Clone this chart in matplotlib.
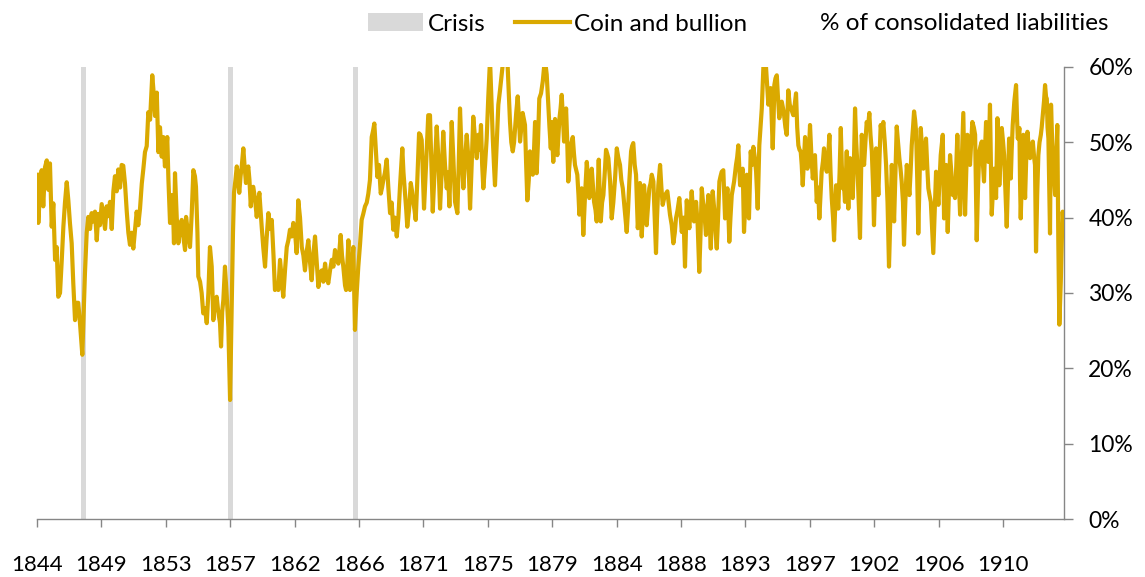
from typing import List
import numpy as np
import matplotlib
matplotlib.use("Agg")
import matplotlib.pyplot as plt
from matplotlib.patches import Patch
from matplotlib.lines import Line2D

# Bank of England coin and bullion, % of consolidated liabilities
years_a = [1844.62, 1844.69, 1844.81, 1844.92, 1845.03, 1845.15, 1845.27, 1845.38, 1845.49, 1845.61,
           1845.72, 1845.84, 1845.95, 1846.06, 1846.18, 1846.30, 1846.41, 1846.52, 1846.64, 1846.75,
           1846.86, 1846.98, 1847.09, 1847.21, 1847.32, 1847.43, 1847.55, 1847.71, 1847.89, 1848.01,
           1848.12, 1848.24, 1848.35, 1848.46, 1848.58, 1848.70, 1848.81, 1848.92, 1849.04, 1849.15,
           1849.27, 1849.38, 1849.49, 1849.61, 1849.73, 1849.84, 1849.95, 1850.07, 1850.18, 1850.30,
           1850.41, 1850.52, 1850.64, 1850.76, 1850.87, 1850.98, 1851.10, 1851.21, 1851.33, 1851.44,
           1851.55, 1851.67, 1851.79, 1851.90, 1852.01, 1852.13, 1852.24, 1852.36, 1852.51, 1852.63,
           1852.70, 1852.82, 1852.93]
pct_a = [45.7, 39.3, 43.7, 46.3, 41.5, 46.7, 47.6, 43.7, 47.2, 38.8,
         41.9, 34.4, 36.1, 29.5, 30.0, 34.4, 38.8, 42.0, 44.7, 42.3,
         39.3, 36.6, 31.3, 26.4, 28.7, 28.7, 26.0, 21.8, 32.6, 38.0,
         40.1, 38.5, 40.6, 39.5, 40.8, 37.0, 40.5, 39.0, 41.8, 40.2,
         38.5, 41.5, 40.2, 42.1, 38.5, 43.5, 45.5, 43.5, 46.4, 44.0,
         47.0, 46.9, 44.5, 40.8, 38.0, 36.4, 38.0, 35.9, 38.5, 40.8,
         39.0, 41.2, 44.5, 46.5, 48.7, 49.5, 54.0, 53.0, 58.9, 56.0,
         53.5, 56.6, 48.7]

years_b = [1853.04, 1853.16, 1853.27, 1853.38, 1853.54, 1853.62, 1853.73, 1853.83, 1853.91, 1854.00,
           1854.07, 1854.19, 1854.30, 1854.41, 1854.53, 1854.64, 1854.76, 1854.83, 1854.96, 1855.10,
           1855.22, 1855.33, 1855.44, 1855.51, 1855.61, 1855.67, 1855.79, 1855.90, 1856.01, 1856.13,
           1856.25, 1856.36, 1856.47, 1856.59, 1856.70, 1856.82, 1856.93, 1857.04, 1857.16, 1857.23,
           1857.31, 1857.39, 1857.50, 1857.62, 1857.73, 1857.85, 1857.96, 1858.05, 1858.12, 1858.22,
           1858.31, 1858.39, 1858.48, 1858.57, 1858.65, 1858.76, 1858.84, 1858.94, 1859.01, 1859.10,
           1859.18, 1859.27, 1859.36, 1859.44, 1859.56, 1859.68, 1859.77, 1859.86, 1859.94, 1860.02,
           1860.13, 1860.25, 1860.35, 1860.48, 1860.59, 1860.71, 1860.83, 1860.93, 1861.05, 1861.16,
           1861.28, 1861.39, 1861.50, 1861.62, 1861.74, 1861.85, 1861.96, 1862.08, 1862.19, 1862.31,
           1862.42, 1862.53]
pct_b = [52.0, 48.1, 50.7, 46.8, 50.7, 45.0, 39.3, 43.0, 42.8, 36.6,
         45.9, 40.0, 36.6, 38.5, 39.7, 37.5, 35.7, 40.1, 38.0, 36.1,
         40.6, 46.3, 45.5, 44.1, 38.0, 32.2, 31.5, 30.0, 27.3, 28.0,
         26.0, 30.0, 36.1, 33.5, 26.4, 29.0, 29.5, 27.5, 26.0, 22.9,
         27.5, 29.1, 33.5, 29.6, 25.5, 15.8, 28.0, 38.0, 43.3, 45.0,
         46.8, 45.5, 43.3, 45.5, 46.8, 49.2, 47.0, 44.6, 46.0, 46.8,
         45.0, 41.5, 44.0, 44.1, 42.5, 40.1, 42.0, 43.3, 41.0, 38.8,
         36.0, 33.5, 37.0, 40.6, 38.5, 39.7, 35.0, 30.4, 31.0, 30.4,
         34.4, 32.0, 29.5, 33.0, 36.1, 37.0, 38.4, 37.5, 39.3, 38.0,
         35.3, 42.3]

years_c = [1862.65, 1862.77, 1862.88, 1862.99, 1863.11, 1863.22, 1863.34, 1863.45, 1863.56, 1863.68,
           1863.80, 1863.91, 1864.02, 1864.14, 1864.25, 1864.37, 1864.48, 1864.59, 1864.71, 1864.83,
           1864.94, 1865.05, 1865.17, 1865.28, 1865.44, 1865.53, 1865.62, 1865.74, 1865.81, 1865.88,
           1865.97, 1866.03, 1866.08, 1866.20, 1866.31, 1866.37, 1866.42, 1866.54, 1866.65, 1866.77,
           1866.88, 1866.99, 1867.11, 1867.23, 1867.34, 1867.45, 1867.57, 1867.66, 1867.75, 1867.85,
           1867.96, 1868.07, 1868.19, 1868.28, 1868.37, 1868.48, 1868.60, 1868.71, 1868.83, 1868.94,
           1869.05, 1869.17, 1869.29, 1869.40, 1869.51, 1869.60, 1869.67, 1869.75, 1869.86, 1869.94,
           1870.01, 1870.13, 1870.25, 1870.34, 1870.43, 1870.51, 1870.59, 1870.70, 1870.82, 1870.91,
           1871.00]
pct_c = [40.0, 36.1, 35.0, 33.0, 35.5, 37.0, 34.0, 31.7, 35.0, 37.5,
         34.0, 30.8, 32.5, 33.0, 31.5, 33.9, 32.0, 31.3, 33.0, 34.4,
         33.5, 35.7, 34.5, 33.9, 37.7, 35.0, 33.5, 31.0, 30.4, 33.0,
         37.0, 33.0, 30.4, 33.0, 36.1, 30.0, 25.1, 30.0, 33.5, 36.5,
         39.7, 40.5, 41.5, 42.0, 43.2, 45.0, 50.7, 51.5, 52.5, 49.0,
         45.4, 47.0, 43.2, 44.0, 45.0, 46.0, 47.7, 44.0, 40.6, 42.0,
         38.4, 40.0, 37.5, 40.0, 44.1, 47.0, 49.2, 46.0, 43.2, 41.0,
         38.8, 41.0, 44.6, 43.5, 42.0, 41.0, 39.7, 45.0, 51.2, 51.0,
         50.3]

years_d = [1871.16, 1871.30, 1871.45, 1871.57, 1871.67, 1871.76, 1871.88, 1872.03, 1872.14, 1872.26,
           1872.37, 1872.48, 1872.60, 1872.72, 1872.81, 1872.90, 1872.98, 1873.06, 1873.17, 1873.29,
           1873.45, 1873.54, 1873.63, 1873.75, 1873.86, 1873.97, 1874.09, 1874.20, 1874.32, 1874.43,
           1874.54, 1874.66, 1874.78, 1874.89, 1874.98, 1875.07, 1875.15, 1875.23, 1875.35, 1875.46,
           1875.57, 1875.69, 1875.78, 1875.88, 1875.96, 1876.03, 1876.15, 1876.26, 1876.38, 1876.49,
           1876.60, 1876.72, 1876.88, 1876.97, 1877.06, 1877.15, 1877.25, 1877.34, 1877.41, 1877.49,
           1877.59, 1877.68, 1877.75, 1877.84, 1877.93, 1878.02, 1878.09, 1878.17, 1878.25, 1878.35,
           1878.43, 1878.52, 1878.62, 1878.71, 1878.78, 1878.89, 1878.98, 1879.07, 1879.19, 1879.31,
           1879.40, 1879.46, 1879.58, 1879.69, 1879.77]
pct_d = [41.2, 47.0, 53.6, 53.6, 47.0, 40.8, 46.0, 52.1, 48.0, 41.2,
         46.0, 51.4, 47.0, 43.9, 46.0, 41.5, 47.0, 52.7, 48.0, 42.1,
         40.6, 47.0, 54.5, 48.0, 43.9, 47.5, 51.0, 48.0, 41.2, 47.0,
         53.4, 50.5, 47.9, 51.0, 49.0, 52.3, 47.0, 43.9, 47.0, 50.5,
         56.0, 61.0, 56.0, 50.5, 47.0, 44.3, 50.0, 55.0, 57.0, 59.0,
         61.0, 61.0, 61.0, 57.0, 52.7, 50.0, 48.8, 50.0, 51.9, 54.0,
         56.1, 53.0, 50.1, 52.0, 53.9, 53.0, 52.3, 47.0, 42.3, 45.0,
         48.8, 47.0, 45.7, 49.0, 52.7, 45.9, 50.0, 55.8, 56.5, 58.1,
         60.0, 61.0, 59.0, 55.0, 52.0]

years_e = [1879.86, 1879.92, 1880.03, 1880.15, 1880.23, 1880.31, 1880.45, 1880.53, 1880.61, 1880.70,
           1880.77, 1880.91, 1880.99, 1881.06, 1881.18, 1881.23, 1881.37, 1881.45, 1881.52, 1881.68,
           1881.76, 1881.82, 1881.90, 1881.98, 1882.04, 1882.09, 1882.21, 1882.33, 1882.42, 1882.50,
           1882.59, 1882.67, 1882.76, 1882.83, 1882.93, 1883.01, 1883.15, 1883.22, 1883.29, 1883.38,
           1883.47, 1883.58, 1883.65, 1883.73, 1883.81, 1883.93, 1884.04, 1884.15, 1884.27, 1884.39,
           1884.49, 1884.61, 1884.70, 1884.80, 1884.89, 1884.95, 1885.07, 1885.16, 1885.25, 1885.37,
           1885.44, 1885.52, 1885.62, 1885.71, 1885.83, 1885.92, 1885.98, 1886.10, 1886.19, 1886.26,
           1886.35, 1886.44, 1886.53, 1886.62, 1886.70, 1886.79, 1886.90, 1886.99, 1887.08, 1887.15,
           1887.24, 1887.36, 1887.45, 1887.54, 1887.63, 1887.70, 1887.86, 1887.95, 1888.04, 1888.16,
           1888.27, 1888.37, 1888.45, 1888.56, 1888.68, 1888.76, 1888.85, 1888.97, 1889.07, 1889.19,
           1889.28, 1889.37]
pct_e = [49.2, 52.7, 47.4, 53.1, 50.0, 48.3, 53.1, 54.5, 56.3, 53.0,
         50.1, 54.5, 50.0, 44.8, 48.0, 49.6, 50.7, 48.5, 47.0, 45.7,
         43.0, 40.4, 42.0, 43.9, 41.0, 37.7, 43.0, 47.4, 45.0, 42.6,
         44.5, 46.5, 44.0, 42.1, 41.0, 39.5, 47.7, 43.0, 39.5, 42.0,
         43.0, 46.5, 49.0, 48.5, 47.9, 44.8, 39.9, 42.0, 45.2, 49.2,
         48.0, 47.0, 45.0, 43.9, 42.0, 40.8, 38.1, 41.0, 44.8, 48.8,
         49.5, 49.9, 47.0, 45.7, 38.6, 41.0, 44.6, 37.5, 41.0, 44.3,
         42.0, 39.0, 41.5, 43.9, 44.5, 45.7, 44.8, 40.0, 35.3, 40.0,
         44.3, 47.0, 44.0, 41.7, 42.5, 43.0, 43.5, 42.0, 40.4, 39.0,
         36.6, 38.0, 39.9, 41.0, 42.6, 40.5, 38.1, 40.0, 33.5, 42.3,
         40.0, 38.6]

years_f = [1889.53, 1889.62, 1889.69, 1889.83, 1889.94, 1890.05, 1890.14, 1890.22, 1890.31, 1890.38,
           1890.51, 1890.60, 1890.67, 1890.75, 1890.84, 1890.90, 1890.97, 1891.08, 1891.17, 1891.25,
           1891.34, 1891.43, 1891.51, 1891.59, 1891.70, 1891.82, 1891.90, 1891.98, 1892.04, 1892.11,
           1892.19, 1892.28, 1892.37, 1892.44, 1892.57, 1892.65, 1892.73, 1892.85, 1892.94, 1893.03,
           1893.12, 1893.21, 1893.31, 1893.40, 1893.46, 1893.58, 1893.67, 1893.76, 1893.86, 1893.95,
           1894.06, 1894.17, 1894.25, 1894.34, 1894.39, 1894.45, 1894.54, 1894.63, 1894.71, 1894.79,
           1894.87, 1894.95, 1895.02, 1895.09, 1895.15, 1895.20, 1895.28, 1895.37, 1895.45, 1895.54,
           1895.63, 1895.71, 1895.80, 1895.87, 1895.96, 1896.05, 1896.16, 1896.26, 1896.35, 1896.43,
           1896.50, 1896.60, 1896.69, 1896.77, 1896.85, 1896.93, 1897.01, 1897.08, 1897.15, 1897.24,
           1897.31, 1897.39, 1897.47, 1897.58]
pct_f = [43.5, 41.0, 39.5, 42.1, 39.0, 32.8, 38.0, 43.9, 42.0, 41.2,
         37.7, 41.0, 43.0, 40.0, 35.9, 40.0, 43.5, 41.0, 38.0, 35.9,
         40.0, 44.8, 45.5, 46.1, 46.3, 39.9, 42.0, 43.9, 41.0, 36.8,
         40.0, 43.0, 44.0, 44.8, 47.0, 48.0, 49.6, 44.3, 45.5, 46.5,
         38.1, 42.0, 45.7, 43.0, 39.9, 48.8, 47.0, 49.4, 48.0, 46.1,
         41.2, 49.6, 52.0, 54.5, 57.0, 60.0, 61.0, 60.0, 57.5, 55.0,
         56.0, 57.2, 53.0, 49.2, 53.0, 57.6, 58.5, 58.9, 56.0, 53.2,
         54.5, 55.4, 54.5, 53.6, 52.0, 51.0, 56.9, 55.0, 54.5, 54.0,
         53.6, 55.0, 56.5, 52.0, 49.6, 49.0, 48.8, 47.0, 44.3, 48.0,
         50.7, 48.0, 46.5, 49.0]

years_g = [1897.65, 1897.75, 1897.84, 1897.93, 1897.99, 1898.11, 1898.20, 1898.29, 1898.37, 1898.45,
           1898.54, 1898.61, 1898.71, 1898.80, 1898.89, 1898.98, 1899.06, 1899.14, 1899.23, 1899.30,
           1899.37, 1899.44, 1899.52, 1899.59, 1899.68, 1899.76, 1899.83, 1899.90, 1899.99, 1900.05,
           1900.17, 1900.22, 1900.28, 1900.34, 1900.40, 1900.50, 1900.58, 1900.67, 1900.74, 1900.82,
           1900.90, 1900.99, 1901.08, 1901.15, 1901.20, 1901.28, 1901.36, 1901.45, 1901.54, 1901.63,
           1901.72, 1901.80, 1901.89, 1901.98, 1902.04, 1902.11, 1902.18, 1902.26, 1902.34, 1902.42,
           1902.50, 1902.59, 1902.68, 1902.78, 1902.87, 1902.97, 1903.07, 1903.16, 1903.26, 1903.35,
           1903.42, 1903.51, 1903.60, 1903.69, 1903.78, 1903.86, 1903.94, 1904.03, 1904.10, 1904.19,
           1904.29, 1904.38, 1904.47, 1904.55, 1904.63, 1904.72, 1904.79, 1904.86, 1904.93, 1905.01,
           1905.08, 1905.17, 1905.25, 1905.34, 1905.43, 1905.52, 1905.61, 1905.69, 1905.77, 1905.85,
           1905.94, 1906.02, 1906.11, 1906.21, 1906.30, 1906.38, 1906.46, 1906.54, 1906.62]
pct_g = [52.3, 48.0, 45.2, 47.0, 48.3, 42.1, 44.0, 39.9, 43.0, 46.1,
         47.5, 49.2, 47.0, 46.1, 48.0, 51.0, 46.0, 42.6, 40.0, 37.0,
         41.0, 44.3, 43.0, 41.2, 46.0, 51.9, 47.0, 43.9, 44.0, 42.1,
         48.8, 45.0, 41.2, 45.0, 47.9, 45.0, 42.6, 48.0, 54.5, 50.0,
         47.0, 42.0, 37.3, 45.0, 51.0, 49.0, 47.0, 50.0, 52.7, 52.0,
         53.9, 51.0, 48.8, 44.0, 39.0, 44.0, 49.2, 46.0, 43.0, 48.0,
         52.3, 51.0, 52.7, 50.0, 47.0, 42.0, 33.5, 40.0, 47.0, 43.0,
         39.5, 46.0, 52.1, 50.0, 47.9, 46.5, 44.8, 42.0, 36.4, 42.0,
         47.0, 45.0, 43.0, 46.0, 49.6, 52.0, 54.1, 53.0, 51.4, 45.0,
         37.9, 45.0, 51.9, 49.0, 46.5, 48.5, 50.5, 47.0, 43.9, 43.0,
         42.1, 39.0, 35.3, 41.0, 46.1, 44.0, 41.7, 45.0, 48.3]

years_h = [1906.76, 1906.85, 1906.92, 1906.99, 1907.05, 1907.10, 1907.19, 1907.26, 1907.35, 1907.45,
           1907.53, 1907.60, 1907.69, 1907.76, 1907.86, 1907.95, 1908.06, 1908.17, 1908.23, 1908.29,
           1908.37, 1908.45, 1908.54, 1908.63, 1908.71, 1908.79, 1908.89, 1908.98, 1909.09, 1909.18,
           1909.27, 1909.35, 1909.44, 1909.52, 1909.59, 1909.66, 1909.73, 1909.81, 1909.89, 1909.95,
           1910.00, 1910.06, 1910.12, 1910.21, 1910.28, 1910.35, 1910.42, 1910.51, 1910.57, 1910.64,
           1910.73, 1910.81, 1910.90, 1910.97, 1911.07, 1911.15, 1911.24, 1911.31, 1911.38, 1911.43,
           1911.49, 1911.56, 1911.62, 1911.67, 1911.73, 1911.79, 1911.86, 1911.91, 1912.02, 1912.06,
           1912.11, 1912.20, 1912.29, 1912.35, 1912.41, 1912.49, 1912.57, 1912.66, 1912.75, 1912.84,
           1912.94, 1913.03, 1913.09, 1913.16, 1913.24, 1913.32, 1913.40, 1913.49, 1913.55, 1913.62,
           1913.71, 1913.78, 1913.85, 1913.90, 1913.95, 1914.01, 1914.07, 1914.12, 1914.19, 1914.27,
           1914.35, 1914.41, 1914.47, 1914.55, 1914.62, 1914.69, 1914.76, 1914.86, 1914.93, 1914.99,
           1915.08]
pct_h = [51.0, 39.9, 43.0, 47.0, 42.0, 38.1, 44.0, 48.3, 46.0, 43.0,
         44.0, 42.6, 47.0, 51.0, 45.0, 40.4, 47.0, 53.9, 47.0, 40.4,
         46.0, 51.0, 49.0, 47.0, 50.0, 52.7, 52.0, 51.0, 37.0, 44.0,
         48.8, 49.5, 50.1, 47.0, 44.8, 49.0, 52.7, 50.0, 47.4, 51.0,
         55.0, 48.0, 40.4, 44.0, 46.5, 44.5, 42.6, 53.2, 49.0, 44.3,
         48.0, 51.9, 50.0, 48.3, 43.0, 38.8, 45.0, 50.5, 47.0, 45.2,
         49.0, 52.3, 54.0, 55.4, 56.5, 57.6, 53.0, 50.5, 51.9, 45.0,
         39.9, 46.0, 51.0, 46.0, 42.6, 48.0, 51.4, 49.5, 47.9, 49.0,
         50.1, 48.0, 47.0, 35.5, 43.0, 48.3, 50.0, 51.0, 52.0, 53.6,
         55.5, 57.6, 56.0, 55.8, 52.0, 50.5, 44.0, 37.9, 55.0, 50.0,
         47.0, 45.0, 43.0, 48.0, 52.3, 36.8, 25.8, 31.5, 37.0, 40.8,
         38.0]

# Crisis dates (decimal years)
crisis_years = [1847.79, 1857.88, 1866.46]

# Category-axis tick labels
tick_labels = ["1844", "1849", "1853", "1857", "1862", "1866", "1871", "1875",
               "1879", "1884", "1888", "1893", "1897", "1902", "1906", "1910"]

GOLD = "#DAA900"
GREY = "#D9D9D9"
AXIS = "#868686"


def build_series() -> (np.ndarray, np.ndarray):
    """Join the segments into one date / value series."""
    years = np.concatenate([years_a, years_b, years_c, years_d,
                            years_e, years_f, years_g, years_h])
    pct = np.concatenate([pct_a, pct_b, pct_c, pct_d,
                          pct_e, pct_f, pct_g, pct_h])
    return years, pct


def plot_chart(years: np.ndarray, pct: np.ndarray, crises: List[float]):
    plt.rcParams["font.family"] = ["Lato", "DejaVu Sans"]

    fig = plt.figure(figsize=(11.45, 5.77), dpi=100)
    ax = fig.add_axes([37 / 1145, 1 - 519 / 577, 1027 / 1145, 452 / 577])

    x_start, x_end = 1844.6, 1915.08

    # crisis bands
    for yr in crises:
        ax.axvspan(yr - 0.17, yr + 0.17, color=GREY, lw=0, zorder=1)

    ax.plot(years, pct, color=GOLD, lw=3.0, solid_joinstyle="round", zorder=3)

    ax.set_xlim(x_start, x_end)
    ax.set_ylim(0, 60)

    # y axis on the right
    ax.yaxis.tick_right()
    ax.set_yticks(np.arange(0, 61, 10))
    ax.set_yticklabels([f"{v}%" for v in range(0, 61, 10)])
    ax.tick_params(axis="y", length=6.5, width=1, color=AXIS, pad=11, labelsize=16.5)

    # category style x ticks
    ax.set_xticks(x_start + 4.42 * np.arange(len(tick_labels)))
    ax.set_xticklabels(tick_labels)
    ax.tick_params(axis="x", length=5.8, width=1, color=AXIS, pad=20, labelsize=16)

    for side in ["left", "top"]:
        ax.spines[side].set_visible(False)
    for side in ["bottom", "right"]:
        ax.spines[side].set_color(AXIS)
        ax.spines[side].set_linewidth(1)

    handles = [Patch(facecolor=GREY, edgecolor="none"),
               Line2D([], [], color=GOLD, lw=3.0)]
    fig.legend(handles, ["Crisis", "Coin and bullion"], ncol=2, frameon=False,
               loc="center left", bbox_to_anchor=(368 / 1145, 1 - 24 / 577),
               fontsize=17.5, handlelength=2.26, handleheight=0.7,
               handletextpad=0.2, columnspacing=1.2, borderpad=0, borderaxespad=0)
    fig.text(820 / 1145, 1 - 24 / 577, "% of consolidated liabilities",
             ha="left", va="center", fontsize=17.5)

    fig.savefig("out.png", dpi=100)


def main():
    years, pct = build_series()
    plot_chart(years, pct, crisis_years)


if __name__ == "__main__":
    main()
